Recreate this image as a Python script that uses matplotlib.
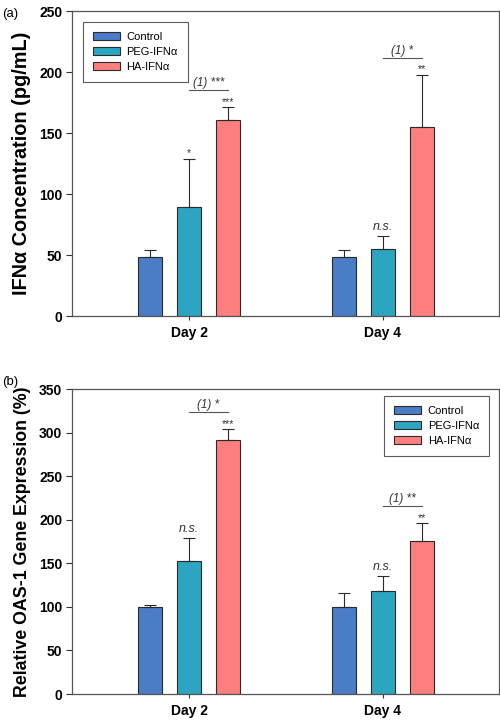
import matplotlib
matplotlib.use("Agg")
import matplotlib.pyplot as plt
import numpy as np

plt.rcParams['font.family'] = ['Liberation Sans', 'DejaVu Sans']

days = ["Day 2", "Day 4"]
series = ["Control", "PEG-IFNα", "HA-IFNα"]
colors = ["#4a7cc8", "#2ca6c0", "#ff7f7f"]

ifn_vals = {"Control": [48.5, 48.5], "PEG-IFNα": [89, 55], "HA-IFNα": [161, 155]}
ifn_err = {"Control": [6, 6], "PEG-IFNα": [40, 10.5], "HA-IFNα": [10, 42.5]}
ifn_sig = {"PEG-IFNα": ["*", "n.s."], "HA-IFNα": ["***", "**"]}
ifn_pair = ["(1) ***", "(1) *"]

oas_vals = {"Control": [100, 100], "PEG-IFNα": [153, 118], "HA-IFNα": [291, 176]}
oas_err = {"Control": [2, 16], "PEG-IFNα": [26, 17], "HA-IFNα": [13, 20]}
oas_sig = {"PEG-IFNα": ["n.s.", "n.s."], "HA-IFNα": ["***", "**"]}
oas_pair = ["(1) *", "(1) **"]

fig = plt.figure(figsize=(5.0, 7.21), dpi=100)
ax1 = fig.add_axes([0.144, 0.5617, 0.854, 0.423])
ax2 = fig.add_axes([0.144, 0.0374, 0.854, 0.423])

x = np.arange(len(days))
width = 0.121
offsets = [-0.2, 0.0, 0.2]


def draw(ax, vals, errs, sig, pair, ymax, ystep, ylabel, ylsize, legloc, legbbox):
    for s, off, c in zip(series, offsets, colors):
        ax.bar(x + off, vals[s], width, color=c, edgecolor="#2a2a2a", linewidth=0.8,
               label=s, zorder=2)
        ax.errorbar(x + off, vals[s], yerr=[np.zeros(len(days)), errs[s]], fmt="none",
                    ecolor="#2a2a2a", elinewidth=0.8, capsize=4, capthick=0.8, zorder=3)
    unit = ymax / 305.0  # data units per pixel
    for s, off in zip(["PEG-IFNα", "HA-IFNα"], offsets[1:]):
        for i in range(len(days)):
            top = vals[s][i] + errs[s][i]
            lab = sig[s][i]
            if lab == "n.s.":
                ax.text(x[i] + off, top + 3 * unit, lab, ha="center", va="bottom",
                        fontsize=9, style="italic", color="#333333")
            else:
                ax.text(x[i] + off, top + 0.5 * unit, lab, ha="center", va="bottom",
                        fontsize=7.5, color="#333333")
    for i in range(len(days)):
        top = vals["HA-IFNα"][i] + errs["HA-IFNα"][i]
        ly = top + 17 * unit
        ax.plot([x[i] + 0.0, x[i] + 0.2], [ly, ly], color="#555555", lw=0.8, zorder=3)
        ax.text(x[i] + 0.1, ly + 1.5 * unit, pair[i], ha="center", va="bottom",
                fontsize=8.5, style="italic", color="#333333")
    ax.set_xlim(-0.603, 1.598)
    ax.set_ylim(0, ymax)
    ax.set_yticks(np.arange(0, ymax + 1, ystep))
    ax.set_xticks(x)
    ax.set_xticklabels(days, fontsize=10, fontweight="bold")
    for t in ax.get_yticklabels():
        t.set_fontweight("bold")
        t.set_fontsize(10)
    ax.tick_params(axis="y", direction="out", length=4, color="#333333", pad=3)
    ax.tick_params(axis="x", direction="out", length=3, color="#333333", pad=4)
    for sp in ax.spines.values():
        sp.set_color("#555555")
        sp.set_linewidth(0.9)
    ax.set_ylabel(ylabel, fontsize=ylsize, fontweight="bold", labelpad=6)
    leg = ax.legend(loc=legloc, bbox_to_anchor=legbbox, fontsize=8, frameon=True,
                    fancybox=False, edgecolor="#333333", handlelength=2.4,
                    handleheight=0.75, labelspacing=0.45, borderpad=0.9,
                    handletextpad=0.6, borderaxespad=0.0)
    leg.get_frame().set_linewidth(0.8)


draw(ax1, ifn_vals, ifn_err, ifn_sig, ifn_pair, 250, 50,
     "IFNα Concentration (pg/mL)", 14.3, "upper left", (0.026, 0.964))
draw(ax2, oas_vals, oas_err, oas_sig, oas_pair, 350, 50,
     "Relative OAS-1 Gene Expression (%)", 12.8, "upper right", (0.977, 0.977))

fig.text(0.004, 0.989, "(a)", fontsize=9.5, va="top", ha="left")
fig.text(0.004, 0.478, "(b)", fontsize=9.5, va="top", ha="left")

fig.savefig("out.png", dpi=100, facecolor="white")
